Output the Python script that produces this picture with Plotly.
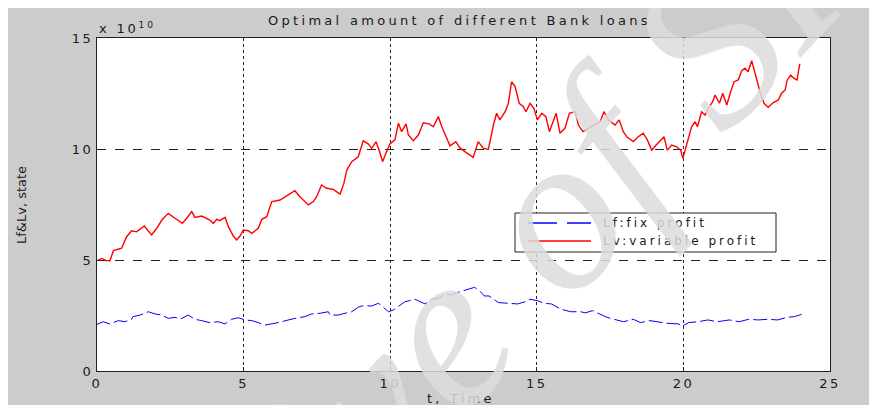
import plotly.graph_objects as go

# ---- data (values in units of 1e10) ----
t_lv = [0.00,0.16,0.30,0.44,0.56,0.84,1.01,1.18,1.35,1.61,1.86,2.04,2.21,2.43,2.66,2.91,3.06,3.23,3.34,3.57,
        3.85,3.97,4.08,4.19,4.37,4.48,4.65,4.76,4.88,4.99,5.16,5.28,5.50,5.62,5.79,5.96,6.13,6.24,6.39,6.47,
        6.75,6.92,7.21,7.38,7.49,7.66,7.83,8.06,8.29,8.42,8.52,8.69,8.91,9.08,9.25,9.37,9.52,9.65,9.74,9.86,
        9.99,10.16,10.28,10.39,10.54,10.62,10.79,10.96,11.13,11.33,11.47,11.64,11.76,11.93,12.04,12.24,12.38,12.55,12.72,12.83,
        13.00,13.18,13.35,13.43,13.52,13.63,13.74,13.92,14.03,14.14,14.26,14.40,14.54,14.63,14.77,14.90,15.02,15.17,15.31,15.43,
        15.51,15.66,15.79,15.96,16.11,16.30,16.42,16.57,16.76,16.93,17.16,17.29,17.44,17.67,17.81,17.95,18.07,18.29,18.46,18.63,
        18.77,18.92,19.07,19.26,19.34,19.45,19.60,19.77,19.91,19.98,20.09,20.20,20.28,20.40,20.48,20.62,20.74,20.85,21.00,21.08,
        21.23,21.34,21.48,21.61,21.73,21.87,21.99,22.10,22.21,22.33,22.44,22.61,22.75,22.89,23.07,23.24,23.35,23.47,23.54,23.66,
        23.77,23.88,23.92,23.97]
lv = [4.97,5.07,4.98,4.97,5.42,5.53,6.05,6.32,6.27,6.53,6.13,6.43,6.80,7.10,6.88,6.65,6.88,7.18,6.92,6.98,
      6.80,6.65,6.83,6.77,6.92,6.50,6.08,5.90,6.08,6.35,6.32,6.20,6.43,6.83,6.95,7.63,7.67,7.70,7.82,7.88,
      8.12,7.85,7.48,7.63,7.85,8.38,8.23,8.18,7.97,8.45,9.05,9.43,9.65,10.37,10.23,10.03,10.33,9.83,9.43,9.83,
      10.23,10.41,11.16,10.78,11.13,10.63,10.37,10.63,11.18,11.13,11.00,11.46,11.00,10.48,10.14,10.33,10.05,9.88,9.73,9.62,
      10.33,10.03,9.99,10.55,11.08,11.61,11.31,11.68,12.06,13.03,12.81,12.06,11.91,11.68,12.06,11.83,11.31,11.61,11.46,10.78,
      11.08,11.61,10.71,10.93,11.61,11.68,11.08,10.78,10.93,11.08,11.23,11.68,11.31,11.08,11.31,10.78,10.55,10.33,10.55,10.71,
      10.41,9.95,10.18,10.44,10.55,9.95,10.18,10.10,9.95,9.58,10.10,10.55,11.00,11.23,11.00,11.68,11.53,11.83,12.13,12.43,
      12.06,12.51,11.98,12.58,13.03,13.11,13.53,13.64,13.48,13.98,13.41,12.58,12.06,11.88,12.09,12.21,12.51,12.66,13.11,13.33,
      13.18,13.11,13.48,13.83]

t_lf = [0.00,0.21,0.44,0.73,0.95,1.18,1.23,1.47,1.75,1.98,2.21,2.43,2.66,2.83,3.11,3.34,3.57,3.85,4.14,4.37,
        4.59,4.82,5.05,5.28,5.50,5.73,6.07,6.41,6.75,7.09,7.32,7.61,7.89,7.95,8.23,8.46,8.69,8.91,9.03,9.37,
        9.60,9.77,9.94,10.11,10.33,10.50,10.85,11.02,11.19,11.41,11.64,11.87,12.10,12.20,12.88,13.08,13.21,13.37,13.70,14.03,
        14.35,14.60,14.77,15.01,15.26,15.50,15.83,16.16,16.49,16.66,16.90,17.06,17.39,17.63,17.96,18.29,18.54,18.86,19.11,19.44,
        19.85,19.93,20.18,20.51,20.83,21.16,21.57,21.90,22.23,22.55,22.88,23.21,23.54,23.79,24.03]
lf = [2.10,2.22,2.12,2.27,2.22,2.33,2.45,2.52,2.67,2.57,2.52,2.37,2.42,2.33,2.52,2.33,2.27,2.18,2.22,2.12,
      2.33,2.40,2.30,2.27,2.18,2.07,2.15,2.27,2.37,2.45,2.57,2.60,2.67,2.52,2.52,2.60,2.67,2.87,2.93,2.93,
      3.05,2.87,2.67,2.75,2.97,3.12,3.23,3.12,3.02,3.23,3.27,3.47,3.42,3.50,3.77,3.57,3.38,3.38,3.08,3.05,
      3.02,3.12,3.23,3.17,3.05,3.02,2.78,2.67,2.67,2.62,2.72,2.62,2.42,2.33,2.22,2.33,2.18,2.27,2.22,2.15,
      2.12,2.00,2.18,2.22,2.30,2.22,2.30,2.22,2.33,2.30,2.33,2.30,2.42,2.45,2.55]

x_ticks = [0, 5, 10, 15, 20, 25]
y_ticks = [0, 5, 10, 15]
series_names = ["Lf:fix profit", "Lv:variable profit"]

# page -> plot-area fractions (body margin of 8px offsets the figure)
OFF = 8
PL, PR, PT, PB = 97, 830, 38, 371
W, H = 877 - OFF, 405 - OFF

def px(xp):
    return (xp - PL) / (PR - PL)

def py(yp):
    return (PB - yp) / (PB - PT)

FONT = "DejaVu Sans, Liberation Sans, Arial, sans-serif"
INK = "#1a1a1a"

def spaced(s, ls):
    return '<span style="letter-spacing:%spx">%s</span>' % (ls, s)

fig = go.Figure()
fig.add_trace(go.Scatter(x=t_lf, y=lf, mode="lines", name=series_names[0], showlegend=False,
                         line=dict(color="#0000ff", width=1, dash="14px,4px")))
fig.add_trace(go.Scatter(x=t_lv, y=lv, mode="lines", name=series_names[1], showlegend=False,
                         line=dict(color="#ff0000", width=1.4)))

axis_common = dict(showline=True, linecolor="#222", linewidth=1, mirror=True,
                   showgrid=True, gridcolor="#222", gridwidth=1, zeroline=False,
                   ticks="inside", ticklen=4, tickcolor="#222",
                   tickfont=dict(family=FONT, size=13, color=INK))

fig.update_layout(
    width=W, height=H, autosize=False,
    margin=dict(l=PL - OFF, r=W - (PR - OFF), t=PT - OFF, b=H - (PB - OFF)),
    paper_bgcolor="#cccccc", plot_bgcolor="white",
    showlegend=False,
    xaxis=dict(range=[0, 25], tickvals=x_ticks, ticktext=[spaced(v, 2.5) for v in x_ticks],
               griddash="dot", **axis_common),
    yaxis=dict(range=[0, 15], tickvals=y_ticks, ticktext=[spaced(v, 2.5) for v in y_ticks],
               griddash="dash", **axis_common),
)

def ann(text, x, y, xanchor="center", size=13, angle=0, family=FONT, color=INK):
    return dict(text=text, x=x, y=y, xref="paper", yref="paper", showarrow=False,
                xanchor=xanchor, yanchor="middle", textangle=angle,
                font=dict(family=family, size=size, color=color))

annotations = [
    ann(spaced("Optimal amount of different Bank loans", 3.3), px(459), py(21), size=13),
    ann(spaced("x 10<sup>10</sup>", 2.8), px(97), py(28), xanchor="left", size=13),
    ann(spaced("t, Time", 3.2), px(461), py(398), size=13),
    ann("Lf&Lv, state", px(21), py(205), size=13, angle=-90),
    # legend texts
    ann(spaced(series_names[0], 3.0), px(601), py(223), xanchor="left", size=12),
    ann(spaced(series_names[1], 3.0), px(601), py(241), xanchor="left", size=12),
    # watermark
    ann("<i>Archive of SID</i>", px(450), py(322), size=225, angle=-47,
        family="Liberation Serif, Times New Roman, serif", color="rgba(220,220,220,0.85)"),
]
fig.update_layout(annotations=annotations)

# legend box and line samples
fig.add_shape(type="rect", xref="paper", yref="paper", x0=px(515), x1=px(776), y0=py(252), y1=py(213),
              fillcolor="white", line=dict(color="#222", width=1), layer="above")
fig.add_shape(type="line", xref="paper", yref="paper", x0=px(528), x1=px(557), y0=py(223), y1=py(223),
              line=dict(color="#0000ff", width=1.5), layer="above")
fig.add_shape(type="line", xref="paper", yref="paper", x0=px(567), x1=px(591), y0=py(223), y1=py(223),
              line=dict(color="#0000ff", width=1.5), layer="above")
fig.add_shape(type="line", xref="paper", yref="paper", x0=px(528), x1=px(591), y0=py(241), y1=py(241),
              line=dict(color="#ff0000", width=1.5), layer="above")

fig.write_html("out.html")
